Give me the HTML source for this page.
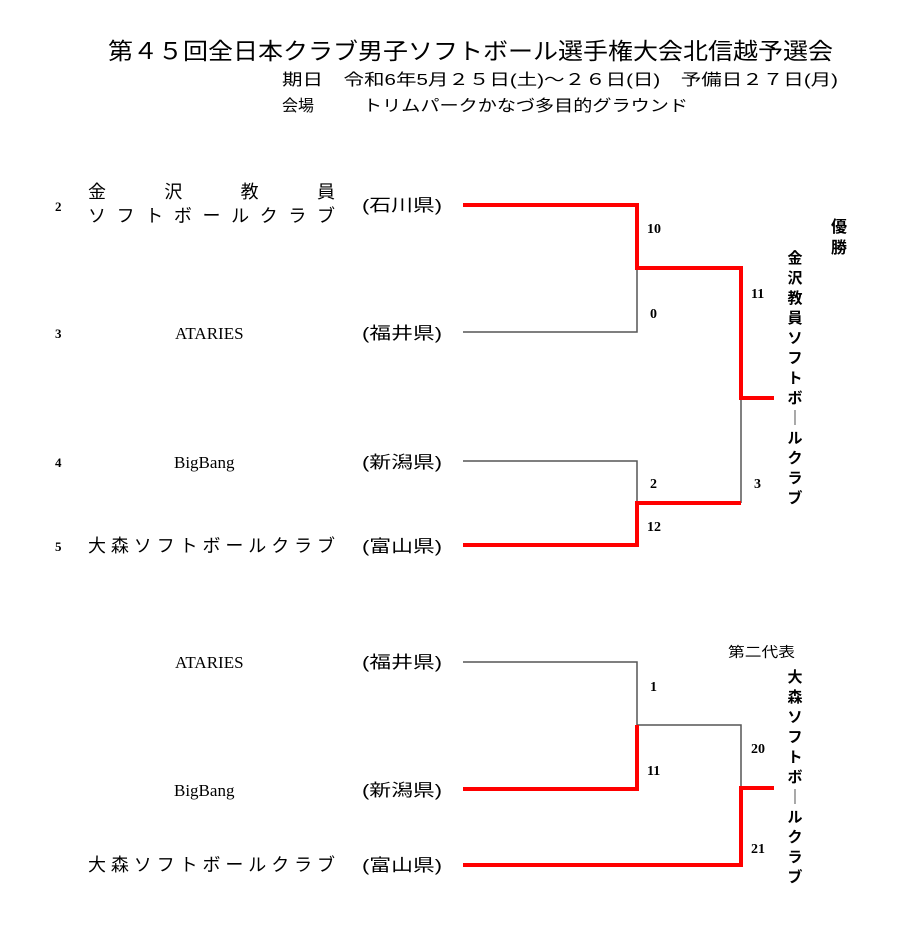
<!DOCTYPE html>
<html><head><meta charset="utf-8"><style>
html,body{margin:0;padding:0;background:#fff;}
svg{display:block;}
text{font-family:"Liberation Serif","Noto Serif CJK SC","Noto Sans CJK JP",serif;fill:#000;}
.j{font-family:"Liberation Sans","Noto Sans CJK JP",sans-serif;}
.n{font-size:14px;}
</style></head><body>
<svg width="900" height="935" viewBox="0 0 900 935" xmlns="http://www.w3.org/2000/svg">
<text class="j" x="108" y="59" font-size="23" textLength="725" lengthAdjust="spacingAndGlyphs">第４５回全日本クラブ男子ソフトボール選手権大会北信越予選会</text>
<text class="j" x="282" y="85" font-size="16" textLength="556" lengthAdjust="spacingAndGlyphs">期日　令和6年5月２５日(土)～２６日(日)　予備日２７日(月)</text>
<text class="j" x="282" y="111" font-size="16">会場</text>
<text class="j" x="363" y="111" font-size="16" textLength="325" lengthAdjust="spacingAndGlyphs">トリムパークかなづ多目的グラウンド</text>

<g font-size="13" font-weight="bold">
<text x="55" y="211">2</text>
<text x="55" y="338">3</text>
<text x="55" y="467">4</text>
<text x="55" y="551">5</text>
</g>

<g class="j" font-size="18">
<text class="j" x="88" y="198" textLength="247" lengthAdjust="spacing">金　　　沢　　　教　　　員</text>
<text class="j" x="88" y="222" textLength="247" lengthAdjust="spacing">ソフトボールクラブ</text>
<text x="175" y="339" font-size="17">ATARIES</text>
<text x="174" y="468" font-size="17">BigBang</text>
<text class="j" x="88" y="552" textLength="247" lengthAdjust="spacing">大森ソフトボールクラブ</text>
<text x="175" y="668" font-size="17">ATARIES</text>
<text x="174" y="796" font-size="17">BigBang</text>
<text class="j" x="88" y="871" textLength="247" lengthAdjust="spacing">大森ソフトボールクラブ</text>
</g>
<g class="j" font-size="17">
<text class="j" x="362" y="211" textLength="80" lengthAdjust="spacingAndGlyphs">(石川県)</text>
<text class="j" x="362" y="339" textLength="80" lengthAdjust="spacingAndGlyphs">(福井県)</text>
<text class="j" x="362" y="468" textLength="80" lengthAdjust="spacingAndGlyphs">(新潟県)</text>
<text class="j" x="362" y="552" textLength="80" lengthAdjust="spacingAndGlyphs">(富山県)</text>
<text class="j" x="362" y="668" textLength="80" lengthAdjust="spacingAndGlyphs">(福井県)</text>
<text class="j" x="362" y="796" textLength="80" lengthAdjust="spacingAndGlyphs">(新潟県)</text>
<text class="j" x="362" y="871" textLength="80" lengthAdjust="spacingAndGlyphs">(富山県)</text>
</g>

<g stroke="#555" stroke-width="1.5" fill="none">
<polyline points="463,332 637,332 637,268"/>
<polyline points="463,461 637,461 637,503"/>
<polyline points="741,398 741,503"/>
<polyline points="463,662 637,662 637,725 741,725 741,788"/>
</g>
<g stroke="#ff0000" stroke-width="4" fill="none">
<polyline points="463,205 637,205 637,268 741,268 741,398 774,398"/>
<polyline points="463,545 637,545 637,503 741,503"/>
<polyline points="463,789 637,789 637,725"/>
<polyline points="463,865 741,865 741,788 774,788"/>
</g>

<g class="n" font-weight="bold">
<text x="647" y="233">10</text>
<text x="650" y="318">0</text>
<text x="751" y="298">11</text>
<text x="650" y="488">2</text>
<text x="647" y="531">12</text>
<text x="754" y="488">3</text>
<text x="650" y="691">1</text>
<text x="647" y="775">11</text>
<text x="751" y="753">20</text>
<text x="751" y="853">21</text>
</g>

<g class="j" font-size="16" font-weight="bold" text-anchor="middle">
<text class="j" x="839" y="232">優</text>
<text class="j" x="839" y="253">勝</text>
</g>
<g class="j" font-size="15" font-weight="bold" text-anchor="middle">
<text class="j" x="795" y="263">金</text>
<text class="j" x="795" y="283">沢</text>
<text class="j" x="795" y="303">教</text>
<text class="j" x="795" y="323">員</text>
<text class="j" x="795" y="343">ソ</text>
<text class="j" x="795" y="363">フ</text>
<text class="j" x="795" y="383">ト</text>
<text class="j" x="795" y="403">ボ</text>
<text class="j" x="795" y="423">｜</text>
<text class="j" x="795" y="443">ル</text>
<text class="j" x="795" y="463">ク</text>
<text class="j" x="795" y="483">ラ</text>
<text class="j" x="795" y="503">ブ</text>
</g>
<text class="j" x="728" y="657" font-size="14" textLength="67" lengthAdjust="spacingAndGlyphs">第二代表</text>
<g class="j" font-size="15" font-weight="bold" text-anchor="middle">
<text class="j" x="795" y="682">大</text>
<text class="j" x="795" y="702">森</text>
<text class="j" x="795" y="722">ソ</text>
<text class="j" x="795" y="742">フ</text>
<text class="j" x="795" y="762">ト</text>
<text class="j" x="795" y="782">ボ</text>
<text class="j" x="795" y="802">｜</text>
<text class="j" x="795" y="822">ル</text>
<text class="j" x="795" y="842">ク</text>
<text class="j" x="795" y="862">ラ</text>
<text class="j" x="795" y="882">ブ</text>
</g>
</svg>
</body></html>
